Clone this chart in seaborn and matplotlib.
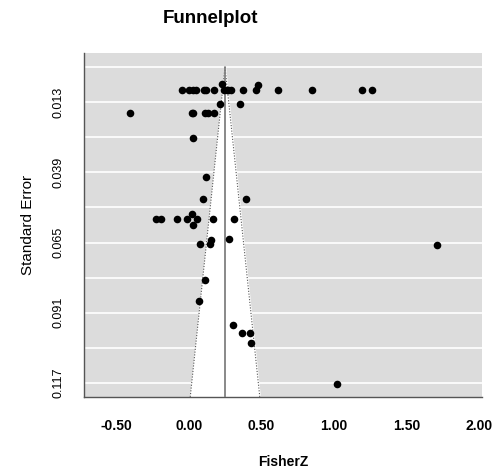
import numpy as np
import pandas as pd
import matplotlib
matplotlib.use("Agg")
import matplotlib.pyplot as plt
import seaborn as sns

sns.set_style("white")
plt.rcParams['font.family'] = ['Liberation Sans', 'DejaVu Sans']
plt.rcParams['text.color'] = 'black'
plt.rcParams['axes.labelcolor'] = 'black'
plt.rcParams['xtick.labelcolor'] = 'black'
plt.rcParams['ytick.labelcolor'] = 'black'

# study estimates
fisher_z = [-0.05, 0.00, 0.03, 0.05, 0.10, 0.12, 0.17, 0.24, 0.26, 0.27, 0.29, 0.37,
            0.46, 0.615, 0.85, 1.19, 1.26, 0.225, 0.475,
            0.213, 0.351,
            -0.406, 0.02, 0.03, 0.11, 0.13, 0.174,
            0.025, 0.115, 0.099, 0.39,
            -0.227, -0.195, -0.085, -0.012, 0.053, 0.168, 0.31, 0.018, 0.025,
            0.076, 0.149, 0.145, 0.273,
            0.11, 0.069, 1.71,
            0.305, 0.365, 0.42, 0.425, 1.017]
std_err = [0.0085, 0.0085, 0.0085, 0.0085, 0.0085, 0.0085, 0.0085, 0.0085, 0.0085, 0.0085, 0.0085, 0.0085,
           0.0085, 0.0085, 0.0085, 0.0085, 0.0085, 0.0062, 0.0065,
           0.0138, 0.0138,
           0.0172, 0.0172, 0.0172, 0.0172, 0.0172, 0.0172,
           0.0264, 0.0406, 0.049, 0.049,
           0.0564, 0.0564, 0.0564, 0.0564, 0.0564, 0.0564, 0.0564, 0.0546, 0.0585,
           0.0657, 0.064, 0.0656, 0.0638,
           0.0789, 0.0867, 0.066,
           0.0956, 0.0986, 0.0986, 0.1021, 0.1172]
pooled_z = 0.248
y_ticks = [0.0, 0.013, 0.026, 0.039, 0.052, 0.065, 0.078, 0.091, 0.104, 0.117]
y_labels = ["", "0.013", "", "0.039", "", "0.065", "", "0.091", "", "0.117"]
x_ticks = [-0.5, 0.0, 0.5, 1.0, 1.5, 2.0]
x_labels = ["-0.50", "0.00", "0.50", "1.00", "1.50", "2.00"]

df = pd.DataFrame({'FisherZ': fisher_z, 'SE': std_err})

fig = plt.figure(figsize=(4.98, 4.74), dpi=100)
ax = fig.add_axes([0.1687, 0.1624, 0.7993, 0.7258])
ax.set_facecolor('#dcdcdc')

ymax = 0.1222
ax.set_xlim(-0.723, 2.018)
ax.set_ylim(ymax, -0.0052)

for t in y_ticks:
    ax.axhline(t, color='white', lw=1.2, zorder=1)

# funnel
se_line = np.array([0.0, ymax])
lo = pooled_z - 1.96 * se_line
hi = pooled_z + 1.96 * se_line
ax.fill_betweenx(se_line, lo, hi, color='white', zorder=2)
ax.plot(lo, se_line, color='#555555', lw=0.8, ls=(0, (1, 1.5)), zorder=3)
ax.plot(hi, se_line, color='#555555', lw=0.8, ls=(0, (1, 1.5)), zorder=3)
ax.plot([pooled_z, pooled_z], [0, ymax], color='#808080', lw=1.3, zorder=3)

sns.scatterplot(data=df, x='FisherZ', y='SE', ax=ax, color='black', s=30,
                edgecolor='black', linewidth=0, zorder=4, legend=False)

ax.set_xticks(x_ticks)
ax.set_xticklabels(x_labels, fontsize=10, fontweight='bold')
ax.set_yticks(y_ticks)
ax.set_yticklabels(y_labels, fontsize=9, rotation=90, va='center',
                   family=['Liberation Sans Narrow', 'Liberation Sans'])
ax.tick_params(axis='both', direction='out', length=6, width=1, color='#555555')
ax.tick_params(axis='x', pad=10)
ax.tick_params(axis='y', pad=8)

for side in ['top', 'right']:
    ax.spines[side].set_visible(False)
for side in ['left', 'bottom']:
    ax.spines[side].set_color('#555555')
    ax.spines[side].set_linewidth(1)

ax.set_xlabel("FisherZ", fontsize=10, fontweight='bold', labelpad=16)
ax.set_ylabel("Standard Error", fontsize=11, labelpad=13)
fig.text(0.4217, 0.962, "Funnelplot", fontsize=13.5, fontweight='bold',
         ha='center', va='center')

fig.savefig("out.png", dpi=100)
